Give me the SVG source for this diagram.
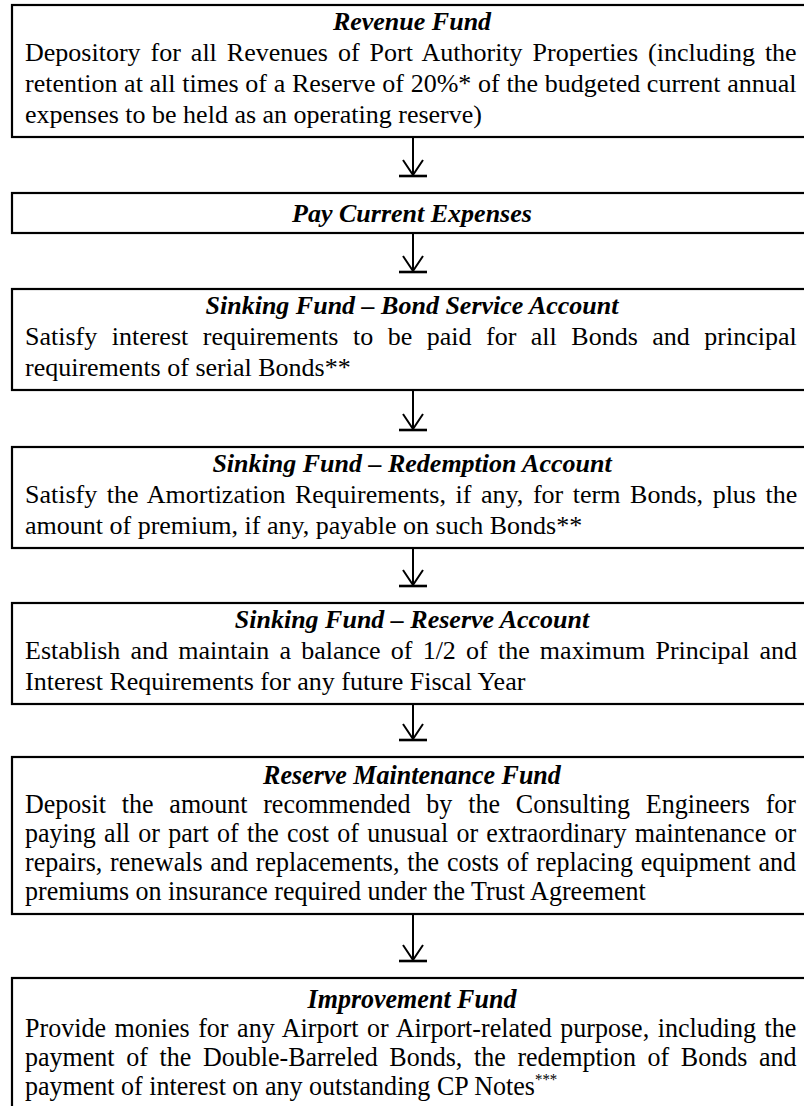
<svg xmlns="http://www.w3.org/2000/svg" width="804" height="1106" viewBox="0 0 804 1106">
  <style>
    .box { fill: #fff; stroke: #000; stroke-width: 2.2; }
    .t { font-family: "Liberation Serif", "Times New Roman", serif; fill: #000; }
    .title { font-size: 26px; font-weight: bold; font-style: italic; text-anchor: middle; }
    .body { font-size: 26px; }
    .ctitle { font-size: 28px; font-weight: bold; font-style: italic; text-anchor: middle; }
    .cbody { font-size: 28px; }
    .conn { fill: none; stroke: #000; stroke-width: 2; }
    .bar { fill: none; stroke: #000; stroke-width: 2.6; }
  </style>
  <rect width="804" height="1106" fill="#fff"/>

  <!-- flow arrows between the fund boxes -->
  <g id="connectors">
    <path class="conn" d="M413 137 V175 M403 160 L413 175 L423 160"/>
    <path class="bar" d="M399 176 H427"/>
    <path class="conn" d="M413 233 V271 M403 256 L413 271 L423 256"/>
    <path class="bar" d="M399 272 H427"/>
    <path class="conn" d="M413 390 V429 M403 414 L413 429 L423 414"/>
    <path class="bar" d="M399 430 H427"/>
    <path class="conn" d="M413 548 V585 M403 570 L413 585 L423 570"/>
    <path class="bar" d="M399 586 H427"/>
    <path class="conn" d="M413 704 V739 M403 724 L413 739 L423 724"/>
    <path class="bar" d="M399 740 H427"/>
    <path class="conn" d="M413 914 V960 M403 945 L413 960 L423 945"/>
    <path class="bar" d="M399 961 H427"/>
  </g>

  <g id="revenue-fund">
    <rect class="box" x="12" y="5" width="800" height="132"/>
    <text class="t title" x="412" y="30">Revenue Fund</text>
    <text class="t body" x="25" y="61" word-spacing="3.5">Depository for all Revenues of Port Authority Properties (including the</text>
    <text class="t body" x="25" y="92" word-spacing="0.2">retention at all times of a Reserve of 20%* of the budgeted current annual</text>
    <text class="t body" x="25" y="123">expenses to be held as an operating reserve)</text>
  </g>

  <g id="pay-current-expenses">
    <rect class="box" x="12" y="193" width="800" height="40"/>
    <text class="t title" x="412" y="222">Pay Current Expenses</text>
  </g>

  <g id="bond-service-account">
    <rect class="box" x="12" y="289" width="800" height="101"/>
    <text class="t title" x="412" y="314">Sinking Fund – Bond Service Account</text>
    <text class="t body" x="25" y="345" word-spacing="8">Satisfy interest requirements to be paid for all Bonds and principal</text>
    <text class="t body" x="25" y="376">requirements of serial Bonds**</text>
  </g>

  <g id="redemption-account">
    <rect class="box" x="12" y="447" width="800" height="101"/>
    <text class="t title" x="412" y="472">Sinking Fund – Redemption Account</text>
    <text class="t body" x="25" y="503" word-spacing="3.1">Satisfy the Amortization Requirements, if any, for term Bonds, plus the</text>
    <text class="t body" x="25" y="534">amount of premium, if any, payable on such Bonds**</text>
  </g>

  <g id="reserve-account">
    <rect class="box" x="12" y="603" width="800" height="101"/>
    <text class="t title" x="412" y="628">Sinking Fund – Reserve Account</text>
    <text class="t body" x="25" y="659" word-spacing="3.7">Establish and maintain a balance of 1/2 of the maximum Principal and</text>
    <text class="t body" x="25" y="690">Interest Requirements for any future Fiscal Year</text>
  </g>

  <g id="reserve-maintenance-fund">
    <rect class="box" x="12" y="757" width="800" height="157"/>
    <g transform="translate(25 0) scale(0.93 1)">
      <text class="t ctitle" x="416.1" y="784">Reserve Maintenance Fund</text>
      <text class="t cbody" x="0" y="813" word-spacing="10">Deposit the amount recommended by the Consulting Engineers for</text>
      <text class="t cbody" x="0" y="842" word-spacing="1.9">paying all or part of the cost of unusual or extraordinary maintenance or</text>
      <text class="t cbody" x="0" y="871" word-spacing="1.4">repairs, renewals and replacements, the costs of replacing equipment and</text>
      <text class="t cbody" x="0" y="900">premiums on insurance required under the Trust Agreement</text>
    </g>
  </g>

  <g id="improvement-fund">
    <rect class="box" x="12" y="978" width="800" height="140"/>
    <g transform="translate(25 0) scale(0.93 1)">
      <text class="t ctitle" x="416.1" y="1008">Improvement Fund</text>
      <text class="t cbody" x="0" y="1037" word-spacing="2.2">Provide monies for any Airport or Airport-related purpose, including the</text>
      <text class="t cbody" x="0" y="1066" word-spacing="5.5">payment of the Double-Barreled Bonds, the redemption of Bonds and</text>
      <text class="t cbody" x="0" y="1095">payment of interest on any outstanding CP Notes<tspan font-size="16" dy="-10">***</tspan></text>
    </g>
  </g>
</svg>
